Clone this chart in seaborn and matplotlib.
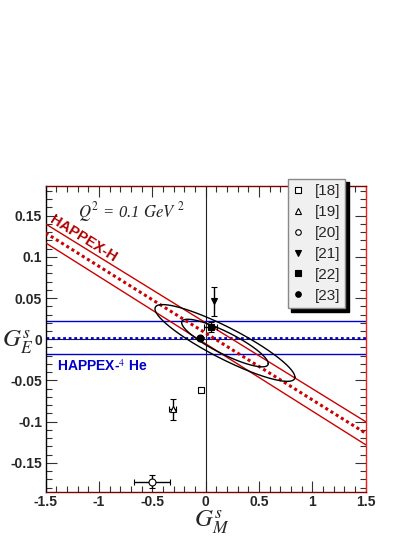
import numpy as np
import matplotlib
matplotlib.use("Agg")
import matplotlib.pyplot as plt
from matplotlib.lines import Line2D
from matplotlib.ticker import MultipleLocator
import seaborn as sns

# HAPPEX-H band (lines at the two x edges)
hap_h_x = [-1.5, 1.5]
hap_h_center = [0.129, -0.114]
hap_h_upper = [0.140, -0.100]
hap_h_lower = [0.117, -0.128]

# HAPPEX-4He band (horizontal)
he_center = 0.002
he_upper = 0.022
he_lower = -0.018

# data points [18]..[23]
pt_labels = ["[18]", "[19]", "[20]", "[21]", "[22]", "[23]"]
pt_x = [-0.04, -0.31, -0.50, 0.078, 0.047, -0.05]
pt_y = [-0.062, -0.085, -0.173, 0.046, 0.015, 0.001]
pt_xerr = [0.0, 0.03, 0.17, 0.0, 0.058, 0.0]
pt_yerr = [0.0, 0.013, 0.008, 0.018, 0.006, 0.0]
pt_markers = ["s", "^", "o", "v", "s", "o"]
pt_filled = [False, False, False, True, True, True]

# confidence ellipses: centre, half-widths, correlation
ell_cx = [0.181, 0.181]
ell_cy = [-0.0045, -0.0046]
ell_sx = [0.656, 0.406]
ell_sy = [0.0466, 0.0289]
ell_rho = [-0.89, -0.86]

sns.set_style("ticks")
plt.rcParams["font.family"] = ["Liberation Sans", "DejaVu Sans"]
plt.rcParams["mathtext.fontset"] = "stix"

fig = plt.figure(figsize=(4.15, 5.37), dpi=100)
ax = fig.add_axes([0.110, 0.0844, 0.771, 0.5692])

red = "#cc0000"
dark_red = "#b00000"
blue = "#0000cc"

# reference axes
ax.axvline(0, color="#222222", lw=0.8, zorder=1)
ax.axhline(0, color="#222222", lw=0.8, zorder=1)

# HAPPEX-He
ax.axhline(he_upper, color=blue, lw=1.0, zorder=2)
ax.axhline(he_lower, color=blue, lw=1.0, zorder=2)
ax.axhline(he_center, color=blue, lw=2.0, ls=(0, (1, 1)), zorder=2)

# HAPPEX-H
sns.lineplot(x=hap_h_x, y=hap_h_upper, color=red, lw=1.0, ax=ax, zorder=3)
sns.lineplot(x=hap_h_x, y=hap_h_lower, color=red, lw=1.0, ax=ax, zorder=3)
sns.lineplot(x=hap_h_x, y=hap_h_center, color=red, lw=2.2, ax=ax, zorder=3,
             linestyle=(0, (1, 1)))

# ellipses
t = np.linspace(0, 2 * np.pi, 300)
for cx, cy, sx, sy, rho in zip(ell_cx, ell_cy, ell_sx, ell_sy, ell_rho):
    ex = cx + sx * np.cos(t)
    ey = cy + sy * (rho * np.cos(t) + np.sqrt(1 - rho ** 2) * np.sin(t))
    ax.plot(ex, ey, color="black", lw=1.0, zorder=4)

# points
handles = []
for x, y, xe, ye, m, f, lab in zip(pt_x, pt_y, pt_xerr, pt_yerr,
                                    pt_markers, pt_filled, pt_labels):
    fc = "black" if f else "white"
    ax.errorbar(x, y, xerr=xe if xe else None, yerr=ye if ye else None,
                fmt=m, ms=5, mfc=fc, mec="black", mew=0.8, ecolor="black",
                elinewidth=1.0, capsize=2, capthick=1.0, zorder=6)
    handles.append(Line2D([], [], ls="none", marker=m, ms=4, mfc=fc,
                          mec="black", mew=0.8, label=lab))

ax.set_xlim(-1.5, 1.5)
ax.set_ylim(-0.185, 0.186)
ax.xaxis.set_minor_locator(MultipleLocator(0.1))
ax.yaxis.set_minor_locator(MultipleLocator(0.01))
ax.set_xticks([-1.5, -1, -0.5, 0, 0.5, 1, 1.5])
ax.set_xticklabels(["-1.5", "-1", "-0.5", "0", "0.5", "1", "1.5"])
ax.set_yticks([-0.15, -0.1, -0.05, 0, 0.05, 0.1, 0.15])
ax.set_yticklabels(["-0.15", "-0.1", "-0.05", "0", "0.05", "0.1", "0.15"])
ax.tick_params(which="both", direction="in", top=True, right=True,
               color="#333333", width=0.8)
ax.tick_params(which="major", length=8, labelsize=10, pad=2.5)
ax.tick_params(which="minor", length=4)
for lbl in ax.get_xticklabels() + ax.get_yticklabels():
    lbl.set_fontweight("bold")

for side, col in [("left", "black"), ("top", "#800000"),
                  ("bottom", "#800000"), ("right", "#ee2020")]:
    ax.spines[side].set_color(col)
    ax.spines[side].set_linewidth(1.0)
    ax.spines[side].set_visible(True)

ax.set_xlabel(r"$G_M^s$", fontsize=18, va="center")
ax.xaxis.set_label_coords(0.52, -0.1)
ax.set_ylabel(r"$G_E^s$", fontsize=18, rotation=0, va="center", ha="center")
ax.yaxis.set_label_coords(-0.088, 0.49)

ax.text(-1.2, 0.155, r"$Q^2$ = 0.1 $GeV$ $^2$", fontsize=12,
        family="Liberation Serif", style="italic", va="center", ha="left")
ax.text(-1.15, 0.1226, "HAPPEX-H", color=dark_red, fontsize=10.5,
        fontweight="bold", rotation=-32, rotation_mode="anchor",
        ha="center", va="center")
ax.text(-1.39, -0.033, r"HAPPEX-$^4$ He", color=blue, fontsize=10,
        fontweight="bold", ha="left", va="center")

leg = ax.legend(handles=handles, loc="upper left",
                bbox_to_anchor=(0.757, 1.023), borderaxespad=0,
                fontsize=11, frameon=True, fancybox=False,
                facecolor="#f0f0f0", edgecolor="#888888", framealpha=1,
                borderpad=0.35, handlelength=0.6, handletextpad=0.8,
                labelspacing=0.45,
                shadow={"ox": 2.5, "oy": -2.5, "facecolor": "black",
                        "edgecolor": "black", "alpha": 1})
leg.set_zorder(10)

fig.savefig("out.png", dpi=100, facecolor="white")
